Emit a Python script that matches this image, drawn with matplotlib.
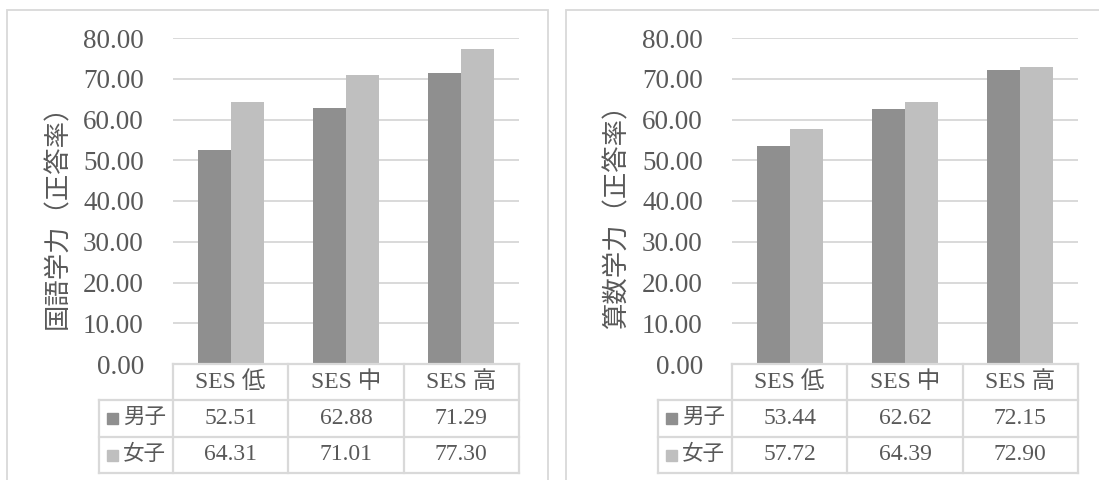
import matplotlib
matplotlib.use('Agg')
import matplotlib.pyplot as plt
import numpy as np
from matplotlib.patches import Rectangle
from matplotlib.lines import Line2D

plt.rcParams['font.family'] = ['Liberation Serif', 'Noto Sans CJK JP', 'DejaVu Sans']

# data
categories = ['SES 低', 'SES 中', 'SES 高']
series_names = ['男子', '女子']
kokugo_boys = [52.51, 62.88, 71.29]
kokugo_girls = [64.31, 71.01, 77.30]
sansu_boys = [53.44, 62.62, 72.15]
sansu_girls = [57.72, 64.39, 72.90]
ylabels = ['国語学力（正答率）', '算数学力（正答率）']
yticks = np.arange(0, 81, 10)

W, H = 1099, 480
TXT = '#595959'
GRID = '#d9d9d9'
COLORS = ['#8f8f8f', '#bfbfbf']

fig = plt.figure(figsize=(W / 100, H / 100), dpi=100)


def fx(x):
    return x / W


def fy(y):
    return 1 - y / H


def hline(x0, x1, y, lw=1.6):
    fig.add_artist(Line2D([fx(x0), fx(x1)], [fy(y), fy(y)], color=GRID, lw=lw,
                          transform=fig.transFigure))


def vline(x, y0, y1, lw=1.6):
    fig.add_artist(Line2D([fx(x), fx(x)], [fy(y0), fy(y1)], color=GRID, lw=lw,
                          transform=fig.transFigure))


def panel(off, boys, girls, ylabel):
    # outer frame
    fig.add_artist(Rectangle((fx(7 + off), fy(500)), fx(541), fy(9.5) - fy(500),
                             fill=False, ec=GRID, lw=1.3, transform=fig.transFigure))

    ax_l, ax_r, ax_t, ax_b = 173 + off, 519 + off, 38, 364
    ax = fig.add_axes([fx(ax_l), fy(ax_b), fx(ax_r - ax_l), (ax_b - ax_t) / H])
    x = np.arange(len(categories))
    w = 0.286
    ax.bar(x - w / 2, boys, w, color=COLORS[0], zorder=3)
    ax.bar(x + w / 2, girls, w, color=COLORS[1], zorder=3)
    ax.set_xlim(-0.5, len(categories) - 0.5)
    ax.set_ylim(0, 80)
    ax.set_yticks(yticks)
    ax.set_yticklabels(['%.2f' % v for v in yticks])
    ax.yaxis.grid(True, color=GRID, lw=1.4, zorder=0)
    ax.tick_params(axis='y', length=0, pad=21, labelsize=19.5, labelcolor=TXT)
    ax.set_xticks([])
    for s in ax.spines.values():
        s.set_visible(False)
    ax.set_facecolor('none')

    fig.text(fx(58 + off), fy(210), ylabel, rotation=90, ha='center', va='center',
             fontsize=19, color=TXT)

    # data table
    cols = np.linspace(ax_l, ax_r, len(categories) + 1)
    rows = [364, 400, 437, 473]
    leg_l = 99 + off
    hline(ax_l, ax_r, rows[0])
    for r in rows[1:]:
        hline(leg_l, ax_r, r)
    for c in cols:
        vline(c, rows[0], rows[3])
    vline(leg_l, rows[1], rows[3])

    for i, cat in enumerate(categories):
        cx = (cols[i] + cols[i + 1]) / 2
        fig.text(fx(cx), fy((rows[0] + rows[1]) / 2), cat, ha='center', va='center',
                 fontsize=17, color=TXT)
        for j, vals in enumerate([boys, girls]):
            fig.text(fx(cx), fy((rows[j + 1] + rows[j + 2]) / 2), '%.2f' % vals[i],
                     ha='center', va='center', fontsize=17, color=TXT)

    for j, name in enumerate(series_names):
        cy = (rows[j + 1] + rows[j + 2]) / 2
        fig.add_artist(Rectangle((fx(107 + off), fy(cy + 5.5)), fx(11), 11 / H,
                                 color=COLORS[j], transform=fig.transFigure))
        fig.text(fx(123 + off), fy(cy), name, ha='left', va='center',
                 fontsize=15.5, color=TXT)


panel(0, kokugo_boys, kokugo_girls, ylabels[0])
panel(559, sansu_boys, sansu_girls, ylabels[1])

fig.savefig('out.png', dpi=100)
